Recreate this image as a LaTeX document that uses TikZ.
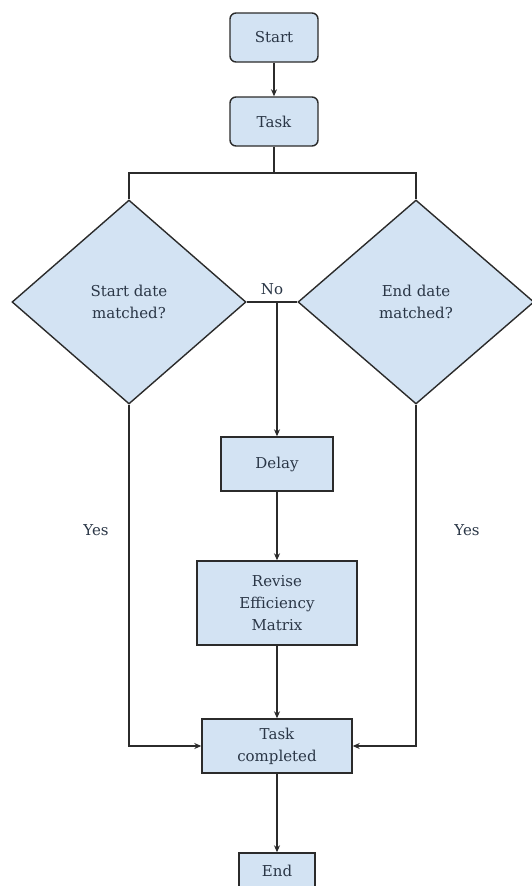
\documentclass[tikz,border=0pt]{standalone}
\usepackage{fontspec}
\setmainfont{DejaVu Serif}
\usetikzlibrary{arrows.meta,shapes.geometric}
\definecolor{boxfill}{HTML}{D3E3F3}
\definecolor{boxline}{HTML}{2B2B2B}
\definecolor{txt}{HTML}{2A3646}
\begin{document}
\begin{tikzpicture}[x=1pt,y=-1pt,
  box/.style={draw=boxline, line width=1.4pt, fill=boxfill, text=txt,
    font=\fontsize{15}{22}\selectfont, align=center, inner sep=0pt},
  rbox/.style={box, rounded corners=6pt},
  dia/.style={box, diamond, minimum width=234pt, minimum height=204pt},
  conn/.style={draw=boxline, line width=1.4pt},
  arr/.style={conn, -{Stealth[length=7pt,width=6pt]}},
  lbl/.style={text=txt, font=\fontsize{15}{22}\selectfont}]
\useasboundingbox (0,0) rectangle (532,886);
\node[rbox, minimum width=88pt, minimum height=49pt] (start) at (274,37.5) {Start};
\node[rbox, minimum width=88pt, minimum height=49pt] (task) at (274,121.5) {Task};
\node[dia] (d1) at (129,302) {Start date\\matched?};
\node[dia, minimum width=236pt] (d2) at (416,302) {End date\\matched?};
\node[box, minimum width=112pt, minimum height=54pt] (delay) at (277,464) {Delay};
\node[box, minimum width=160pt, minimum height=84pt] (rev) at (277,603) {Revise\\Efficiency\\Matrix};
\node[box, minimum width=150pt, minimum height=54pt] (tc) at (277,746) {Task\\completed};
\node[box, minimum width=76pt, minimum height=36pt] (end) at (277,871) {End};
\coordinate (br) at (274,173);
\coordinate (nj) at (277,302);
\draw[arr] (start) -- (task);
\draw[conn] (task.south) -- (br);
\draw[conn] (d1.north) |- (br) -| (d2.north);
\draw[conn] (d1.east) -- (d2.west);
\node[lbl] (no) at (272,289) {No};
\draw[arr] (nj) -- (delay.north);
\draw[arr] (delay) -- (rev);
\draw[arr] (rev) -- (tc);
\draw[arr] (tc) -- (end);
\draw[arr] (d1.south) |- (tc.west);
\draw[arr] (d2.south) |- (tc.east);
\node[lbl] (yes1) at (96,530) {Yes};
\node[lbl] (yes2) at (467,530) {Yes};
\end{tikzpicture}
\end{document}
